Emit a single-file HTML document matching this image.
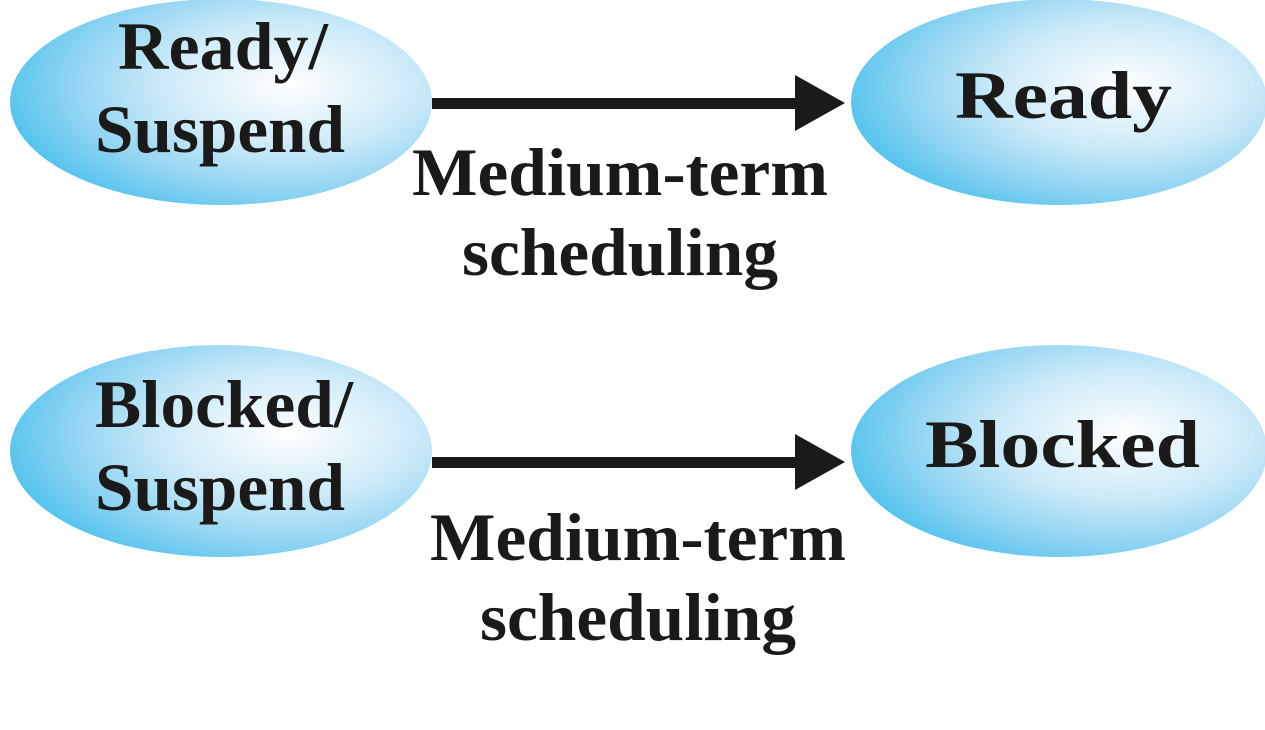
<!DOCTYPE html>
<html><head><meta charset="utf-8"><style>html,body{margin:0;padding:0;background:#fff;}svg{display:block}</style></head>
<body>
<svg width="1265" height="730" viewBox="0 0 1265 730" xmlns="http://www.w3.org/2000/svg">
<defs>
<radialGradient id="g" cx="0.66" cy="0.42" r="0.75">
<stop offset="0" stop-color="#ffffff"/>
<stop offset="0.4" stop-color="#cdeaf8"/>
<stop offset="0.7" stop-color="#8dd3f2"/>
<stop offset="1" stop-color="#3dbcec"/>
</radialGradient>
</defs>
<ellipse cx="221" cy="102" rx="211" ry="103" fill="url(#g)"/>
<ellipse cx="1059" cy="102" rx="208" ry="103" fill="url(#g)"/>
<ellipse cx="221" cy="451" rx="211" ry="106" fill="url(#g)"/>
<ellipse cx="1059" cy="451" rx="208" ry="106" fill="url(#g)"/>
<rect x="432" y="98" width="368" height="11" fill="#1a1a1a"/>
<polygon points="795,75 845,103 795,131" fill="#1a1a1a"/>
<rect x="432" y="457" width="368" height="11" fill="#1a1a1a"/>
<polygon points="795,434 845,462 795,490" fill="#1a1a1a"/>
<g font-family="Liberation Serif, serif" font-weight="bold" font-size="68" fill="#1a1a1a">
<text x="118" y="69" textLength="210" lengthAdjust="spacingAndGlyphs">Ready/</text>
<text x="95" y="152" textLength="250" lengthAdjust="spacingAndGlyphs">Suspend</text>
<text x="955" y="118" textLength="217" lengthAdjust="spacingAndGlyphs">Ready</text>
<text x="412" y="195" textLength="416" lengthAdjust="spacingAndGlyphs">Medium-term</text>
<text x="462" y="275" textLength="316" lengthAdjust="spacingAndGlyphs">scheduling</text>
<text x="95" y="427" textLength="258" lengthAdjust="spacingAndGlyphs">Blocked/</text>
<text x="95" y="510" textLength="250" lengthAdjust="spacingAndGlyphs">Suspend</text>
<text x="925" y="467" textLength="275" lengthAdjust="spacingAndGlyphs">Blocked</text>
<text x="430" y="560" textLength="416" lengthAdjust="spacingAndGlyphs">Medium-term</text>
<text x="480" y="640" textLength="316" lengthAdjust="spacingAndGlyphs">scheduling</text>
</g>
</svg>
</body></html>
